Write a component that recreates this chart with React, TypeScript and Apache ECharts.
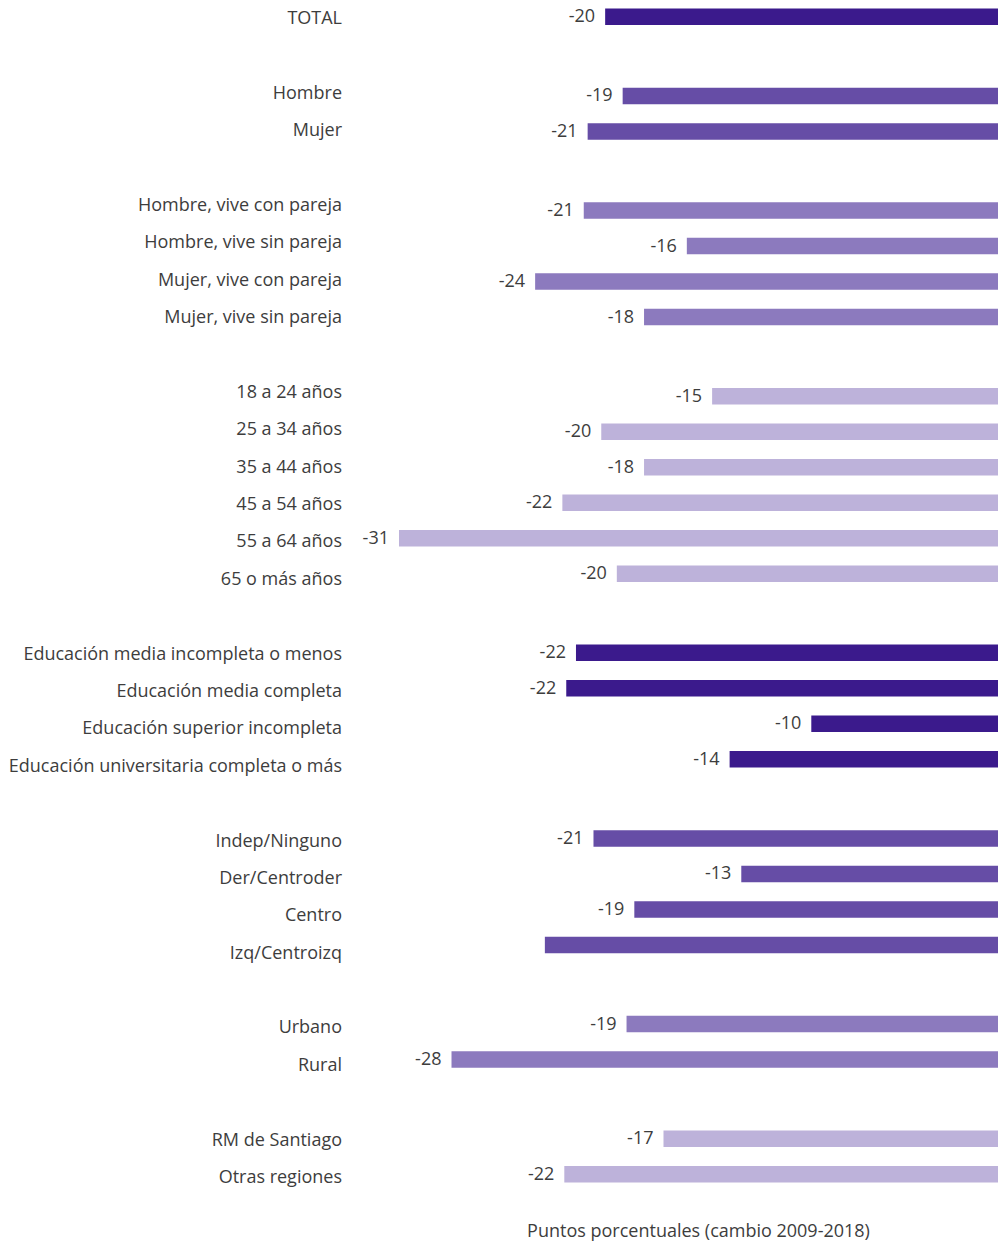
import React, { useEffect, useRef } from "react";
import * as echarts from "echarts";

const categories = [
  "TOTAL",
  "Hombre",
  "Mujer",
  "Hombre, vive con pareja",
  "Hombre, vive sin pareja",
  "Mujer, vive con pareja",
  "Mujer, vive sin pareja",
  "18 a 24 años",
  "25 a 34 años",
  "35 a 44 años",
  "45 a 54 años",
  "55 a 64 años",
  "65 o más años",
  "Educación media incompleta o menos",
  "Educación media completa",
  "Educación superior incompleta",
  "Educación universitaria completa o más",
  "Indep/Ninguno",
  "Der/Centroder",
  "Centro",
  "Izq/Centroizq",
  "Urbano",
  "Rural",
  "RM de Santiago",
  "Otras regiones",
];

const values = [
  -20.2, -19.3, -21.1, -21.3, -16.0, -23.8, -18.2, -14.7, -20.4, -18.2, -22.4, -30.8, -19.6,
  -21.7, -22.2, -9.6, -13.8, -20.8, -13.2, -18.7, -23.3, -19.1, -28.1, -17.2, -22.3,
];

const groupIds = [0, 1, 1, 2, 2, 2, 2, 3, 3, 3, 3, 3, 3, 4, 4, 4, 4, 5, 5, 5, 5, 6, 6, 7, 7];

const groupColors = ["#3b1a8c", "#664da6", "#8c7abe", "#bdb2da", "#3b1a8c", "#664da6", "#8c7abe", "#bdb2da"];

const hiddenValueLabels = ["Izq/Centroizq"];

const axisName = "Puntos porcentuales (cambio 2009-2018)";

const GROUP_GAP = 1.23;
const TEXT_COLOR = "#3d3d3d";
const LABEL_FONT = "'Open Sans'";

export default function App() {
  const ref = useRef<HTMLDivElement>(null);

  useEffect(() => {
    document.body.style.margin = "0";
    if (!ref.current) return;
    const chart = echarts.init(ref.current, null, { renderer: "svg" });

    const positions = categories.map((_, i) => i + groupIds[i] * GROUP_GAP);
    const labelSlots: string[] = [];
    categories.forEach((c, i) => {
      if (i > 0 && groupIds[i] !== groupIds[i - 1]) labelSlots.push("");
      labelSlots.push(c);
    });

    const data = values.map((v, i) => ({ value: [v, positions[i], i] }));

    chart.setOption({
      animation: false,
      grid: [
        { left: 399, right: 3, top: 16.8, bottom: 68.8, outerBoundsMode: "none", containLabel: false },
        { left: 342, width: 1, top: 17, bottom: 67, outerBoundsMode: "none", containLabel: false },
      ],
      xAxis: [
        {
          type: "value",
          gridIndex: 0,
          min: Math.min(...values),
          max: 0,
          axisLine: { show: false },
          axisTick: { show: false },
          axisLabel: { show: false },
          splitLine: { show: false },
          name: axisName,
          nameLocation: "middle",
          nameGap: 47,
          nameTextStyle: { fontSize: 18, color: TEXT_COLOR, fontFamily: LABEL_FONT },
        },
        { type: "value", gridIndex: 1, show: false },
      ],
      yAxis: [
        {
          type: "value",
          gridIndex: 0,
          inverse: true,
          min: 0,
          max: positions[positions.length - 1],
          show: false,
        },
        {
          type: "category",
          gridIndex: 1,
          inverse: true,
          boundaryGap: false,
          data: labelSlots,
          axisLine: { show: false },
          axisTick: { show: false },
          splitLine: { show: false },
          axisLabel: {
            interval: 0,
            margin: 0,
            fontSize: 18,
            color: TEXT_COLOR,
            fontFamily: LABEL_FONT,
          },
        },
      ],
      series: [
        {
          type: "custom",
          xAxisIndex: 0,
          yAxisIndex: 0,
          clip: false,
          data,
          renderItem: (params: any, api: any) => {
            const v = api.value(0);
            const p = api.value(1);
            const idx = api.value(2);
            const s = api.coord([v, p]);
            const e = api.coord([0, p]);
            const h = 16.5;
            const children: any[] = [
              {
                type: "rect",
                shape: { x: s[0], y: s[1] - h / 2, width: e[0] - s[0], height: h },
                style: { fill: groupColors[groupIds[idx]] },
              },
            ];
            if (!hiddenValueLabels.includes(categories[idx])) {
              children.push({
                type: "text",
                x: s[0] - 10,
                y: s[1] - 1.5,
                style: {
                  text: String(Math.round(v)),
                  align: "right",
                  verticalAlign: "middle",
                  fill: TEXT_COLOR,
                  fontSize: 18,
                  fontFamily: LABEL_FONT,
                },
              });
            }
            return { type: "group", children };
          },
        },
      ],
    });

    return () => chart.dispose();
  }, []);

  return <div ref={ref} style={{ width: 1001, height: 1243 }} />;
}
